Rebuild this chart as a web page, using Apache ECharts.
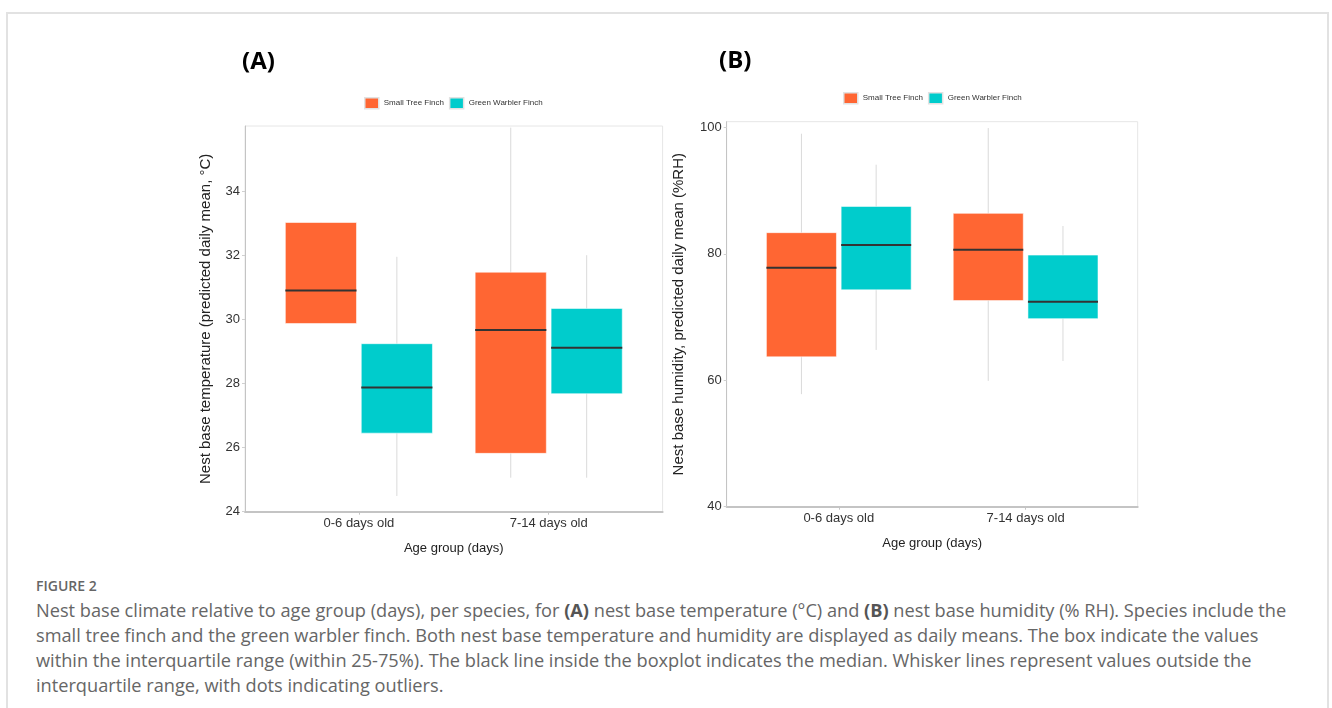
<!DOCTYPE html>
<html>
<head>
<meta charset="utf-8">
<title>Figure 2</title>
<script src="https://cdn.jsdelivr.net/npm/echarts@6/dist/echarts.min.js"></script>
<style>
  html, body { margin: 0; padding: 0; background: #fff; width: 1332px; height: 708px; overflow: hidden; }
  #frame { position: absolute; left: 6px; top: 12px; width: 1323px; height: 720px; border: 2px solid #e2e2e2; box-sizing: border-box; }
  #chart { position: absolute; left: 0; top: 0; width: 1332px; height: 565px; }
  #caption { position: absolute; left: 36px; top: 576px; font-family: "Open Sans", sans-serif; color: #666; }
  #caption .fig { font-size: 14px; font-weight: 600; line-height: 20px; }
  #caption .txt { font-size: 18.2px; line-height: 25px; white-space: nowrap; margin-top: 2px; }
  #caption b { font-weight: 700; color: #555; }
</style>
</head>
<body>
<div id="frame"></div>
<div id="chart"></div>
<div id="caption">
  <div class="fig">FIGURE 2</div>
  <div class="txt">
    Nest base climate relative to age group (days), per species, for <b>(A)</b> nest base temperature (°C) and <b>(B)</b> nest base humidity (% RH). Species include the<br>
    small tree finch and the green warbler finch. Both nest base temperature and humidity are displayed as daily means. The box indicate the values<br>
    within the interquartile range (within 25-75%). The black line inside the boxplot indicates the median. Whisker lines represent values outside the<br>
    interquartile range, with dots indicating outliers.
  </div>
</div>
<script>
// 年龄组 / 物种
const categories = ["0-6 days old", "7-14 days old"];
const speciesNames = ["Small Tree Finch", "Green Warbler Finch"];
const speciesColors = ["#FF6633", "#00CCCC"];

// 每组: [min, Q1, median, Q3, max]
const tempSmallTree = [
  [29.87, 29.87, 30.9, 33.02, 33.02],
  [25.06, 25.82, 29.67, 31.47, 35.98]
];
const tempGreenWarbler = [
  [24.49, 26.45, 27.87, 29.24, 31.95],
  [25.06, 27.68, 29.11, 30.34, 32.0]
];
const humSmallTree = [
  [57.8, 63.7, 77.8, 83.35, 99.0],
  [59.9, 72.6, 80.66, 86.4, 99.9]
];
const humGreenWarbler = [
  [64.8, 74.3, 81.4, 87.5, 94.1],
  [63.05, 69.75, 72.4, 79.8, 84.4]
];

// 刻度
const tempTicks = [24, 26, 28, 30, 32, 34];
const humTicks = [40, 60, 80, 100];
const catTicks = [1, 2];

const FONT = "Liberation Sans";
const BOX_HALF = 0.1875;
const DODGE = 0.2;

const chart = echarts.init(document.getElementById("chart"));

// 箱线图绘制
const boxRender = (offset, color) => (params, api) => {
  const x = api.value(0) + offset;
  const bl = api.coord([x - BOX_HALF, api.value(2)]);
  const tr = api.coord([x + BOX_HALF, api.value(4)]);
  const ml = api.coord([x - BOX_HALF, api.value(3)]);
  const mr = api.coord([x + BOX_HALF, api.value(3)]);
  const wTop = api.coord([x, api.value(5)]);
  const wBot = api.coord([x, api.value(1)]);
  return {
    type: "group",
    children: [
      {
        type: "line",
        shape: { x1: wTop[0], y1: wTop[1], x2: wBot[0], y2: wBot[1] },
        style: { stroke: "#dadada", lineWidth: 1 }
      },
      {
        type: "rect",
        shape: { x: bl[0], y: tr[1], width: tr[0] - bl[0], height: bl[1] - tr[1] },
        style: { fill: color, stroke: "rgba(255,255,255,0.55)", lineWidth: 1 }
      },
      {
        type: "line",
        shape: { x1: ml[0], y1: ml[1], x2: mr[0], y2: mr[1] },
        style: { stroke: "#333333", lineWidth: 2 }
      }
    ]
  };
};

const toData = arr => arr.map((v, i) => [i + 1].concat(v));

const makeSeries = (name, idx, arr, gridIdx) => ({
  type: "custom",
  name: name,
  xAxisIndex: gridIdx,
  yAxisIndex: gridIdx,
  clip: true,
  itemStyle: { color: speciesColors[idx] },
  encode: { x: 0, y: [1, 2, 3, 4, 5] },
  renderItem: boxRender(idx === 0 ? -DODGE : DODGE, speciesColors[idx]),
  data: toData(arr)
});

const xAxisBase = gridIdx => ({
  type: "value",
  gridIndex: gridIdx,
  min: 0.4,
  max: 2.6,
  name: "Age group (days)",
  nameLocation: "middle",
  nameGap: 30,
  nameTextStyle: { color: "#222", fontSize: 13, fontFamily: FONT },
  splitLine: { show: false },
  axisLine: { show: true, lineStyle: { color: "#c4c4c4", width: 2 } },
  axisTick: { show: true, length: 3, lineStyle: { color: "#c4c4c4" }, customValues: catTicks },
  axisLabel: {
    color: "#333",
    fontSize: 13,
    fontFamily: FONT,
    margin: 5,
    customValues: catTicks,
    formatter: v => categories[Math.round(v) - 1] || ""
  }
});

const yAxisBase = (gridIdx, name, min, max, ticks, gap) => ({
  type: "value",
  gridIndex: gridIdx,
  min: min,
  max: max,
  name: name,
  nameLocation: "middle",
  nameRotate: 90,
  nameGap: gap,
  nameTextStyle: { color: "#222", fontSize: 15, fontFamily: FONT },
  splitLine: { show: false },
  axisLine: { show: true, lineStyle: { color: "#c4c4c4", width: 1 } },
  axisTick: { show: true, length: 3, lineStyle: { color: "#d0d0d0" }, customValues: ticks },
  axisLabel: { color: "#333", fontSize: 13, fontFamily: FONT, margin: 5, customValues: ticks }
});

const legendBase = (left, top) => ({
  left: left,
  top: top,
  padding: 0,
  itemGap: 5,
  itemWidth: 14,
  itemHeight: 11,
  icon: "rect",
  itemStyle: { borderColor: "#e2e2e2", borderWidth: 1.5 },
  textStyle: { color: "#333", fontSize: 8, fontFamily: FONT },
  data: speciesNames
});

const option = {
  animation: false,
  backgroundColor: "transparent",
  title: [
    { text: "(A)", left: 237, top: 45, textStyle: { fontFamily: "Open Sans", fontWeight: "bold", fontSize: 24, color: "#000" } },
    { text: "(B)", left: 714, top: 44, textStyle: { fontFamily: "Open Sans", fontWeight: "bold", fontSize: 24, color: "#000" } }
  ],
  legend: [legendBase(364, 97), legendBase(843, 92)],
  grid: [
    { left: 245, top: 126, width: 417.6, height: 385.7, show: true, borderColor: "#e6e6e6", borderWidth: 1, containLabel: false },
    { left: 726.7, top: 121.7, width: 411, height: 385, show: true, borderColor: "#e6e6e6", borderWidth: 1, containLabel: false }
  ],
  xAxis: [xAxisBase(0), xAxisBase(1)],
  yAxis: [
    yAxisBase(0, "Nest base temperature (predicted daily mean, °C)", 24, 36.03, tempTicks, 32),
    yAxisBase(1, "Nest base humidity, predicted daily mean (%RH)", 40, 100.9, humTicks, 40)
  ],
  series: [
    makeSeries(speciesNames[0], 0, tempSmallTree, 0),
    makeSeries(speciesNames[1], 1, tempGreenWarbler, 0),
    makeSeries(speciesNames[0], 0, humSmallTree, 1),
    makeSeries(speciesNames[1], 1, humGreenWarbler, 1)
  ]
};

chart.setOption(option);
</script>
</body>
</html>
